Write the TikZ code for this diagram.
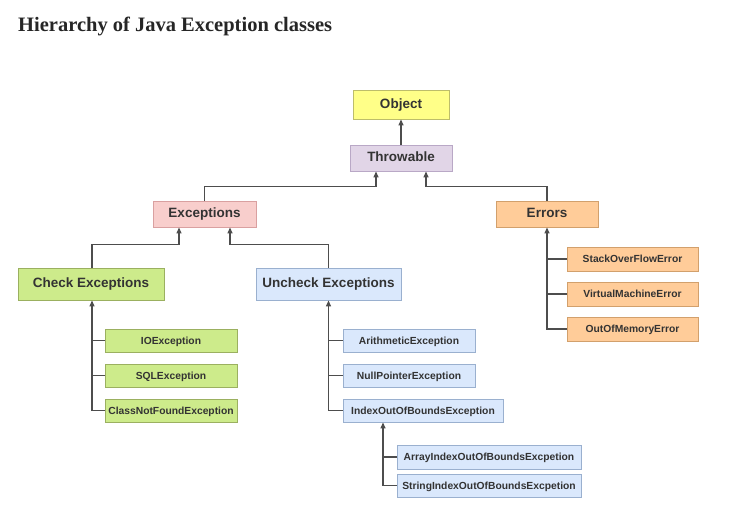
\documentclass[tikz,border=0pt]{standalone}
\usepackage{fontspec}
\setmainfont{Liberation Serif}
\setsansfont{Liberation Sans}
\usetikzlibrary{arrows.meta}

\definecolor{objfill}{HTML}{FFFF88}
\definecolor{objline}{HTML}{BDBD6A}
\definecolor{thrfill}{HTML}{E1D5E7}
\definecolor{thrline}{HTML}{B9A8C6}
\definecolor{excfill}{HTML}{F8CECC}
\definecolor{excline}{HTML}{D9A0A0}
\definecolor{errfill}{HTML}{FFCC99}
\definecolor{errline}{HTML}{D2A06C}
\definecolor{chkfill}{HTML}{CDEB8B}
\definecolor{chkline}{HTML}{9BB060}
\definecolor{unchfill}{HTML}{DAE8FC}
\definecolor{unchline}{HTML}{9AB0CF}
\definecolor{wire}{HTML}{4D4D4D}
\definecolor{ink}{HTML}{333333}

\tikzset{
  box/.style={rectangle, line width=0.9pt, inner sep=0pt, text=ink,
    text height=0.72em, text depth=0pt,
    font=\sffamily\bfseries\fontsize{13.5}{14}\selectfont},
  small/.style={box, minimum height=23pt,
    font=\sffamily\bfseries\fontsize{10.3}{11}\selectfont},
  wireline/.style={draw=wire, line width=1.3pt},
  arr/.style={wireline, -{Triangle[length=6pt,width=5pt]}}
}

\begin{document}
\begin{tikzpicture}[x=1pt,y=-1pt]
    \useasboundingbox (0,0) rectangle (744,521);
    % Title
    \node[anchor=base west, inner sep=0pt, text=black!85,
      font=\bfseries\fontsize{20.5}{22}\selectfont] (title) at (18,32)
      {Hierarchy of Java Exception classes};

    % Top level
    % Vertices
    \node[box, fill=objfill, draw=objline, minimum width=96pt, minimum height=29pt] (obj) at (401,104.5) {Object};
    \node[box, fill=thrfill, draw=thrline, minimum width=102pt, minimum height=26pt] (thr) at (401,158) {Throwable};
    \node[box, fill=excfill, draw=excline, minimum width=103pt, minimum height=26pt] (exc) at (204.5,214) {Exceptions};
    \node[box, fill=errfill, draw=errline, minimum width=102pt, minimum height=26pt] (err) at (547,214) {Errors};
    \node[box, fill=chkfill, draw=chkline, minimum width=146pt, minimum height=32pt] (chk) at (91,284) {Check Exceptions};
    \node[box, fill=unchfill, draw=unchline, minimum width=145pt, minimum height=32pt] (unch) at (328.5,284) {Uncheck Exceptions};

    % Edges
    \draw[arr] (thr.north) -- (obj.south);
    \draw[arr] (exc.north) -- ++(0,-14) -| ([xshift=-25pt]thr.south);
    \draw[arr] (err.north) -- ++(0,-14) -| ([xshift=25pt]thr.south);
    \draw[arr] ([xshift=1pt]chk.north) -- ++(0,-23) -| ([xshift=-25.5pt]exc.south);
    \draw[arr] (unch.north) -- ++(0,-23) -| ([xshift=25.5pt]exc.south);

    % Check exceptions
    % Vertices
    \node[small, fill=chkfill, draw=chkline, minimum width=132pt] (io) at (171,340.5) {IOException};
    \node[small, fill=chkfill, draw=chkline, minimum width=132pt] (sql) at (171,375.5) {SQLException};
    \node[small, fill=chkfill, draw=chkline, minimum width=132pt] (cnf) at (171,410.5) {ClassNotFoundException};

    % Edges
    \draw[arr] (cnf.west) -| ([xshift=1pt]chk.south);
    \draw[wireline] (io.west) -- ++(-13,0);
    \draw[wireline] (sql.west) -- ++(-13,0);

    % Uncheck exceptions
    % Vertices
    \node[small, fill=unchfill, draw=unchline, minimum width=132pt] (arith) at (409,340.5) {ArithmeticException};
    \node[small, fill=unchfill, draw=unchline, minimum width=132pt] (npe) at (409,375.5) {NullPointerException};
    \node[small, fill=unchfill, draw=unchline, minimum width=160pt] (idx) at (423,410.5) {IndexOutOfBoundsException};
    \node[small, fill=unchfill, draw=unchline, minimum width=184pt, minimum height=24pt] (aidx) at (489,457) {ArrayIndexOutOfBoundsExcpetion};
    \node[small, fill=unchfill, draw=unchline, minimum width=184pt] (sidx) at (489,485.5) {StringIndexOutOfBoundsExcpetion};

    % Edges
    \draw[arr] (idx.west) -| (unch.south);
    \draw[wireline] (arith.west) -- ++(-14.5,0);
    \draw[wireline] (npe.west) -- ++(-14.5,0);
    \draw[arr] (sidx.west) -| ([xshift=-40pt]idx.south);
    \draw[wireline] (aidx.west) -- ++(-14,0);

    % Errors
    % Vertices
    \node[small, fill=errfill, draw=errline, minimum width=131pt, minimum height=24pt] (sof) at (632.5,259) {StackOverFlowError};
    \node[small, fill=errfill, draw=errline, minimum width=131pt, minimum height=24pt] (vme) at (632.5,294) {VirtualMachineError};
    \node[small, fill=errfill, draw=errline, minimum width=131pt, minimum height=24pt] (oom) at (632.5,329) {OutOfMemoryError};

    % Edges
    \draw[arr] (oom.west) -| (err.south);
    \draw[wireline] (sof.west) -- ++(-20,0);
    \draw[wireline] (vme.west) -- ++(-20,0);

\end{tikzpicture}
\end{document}
